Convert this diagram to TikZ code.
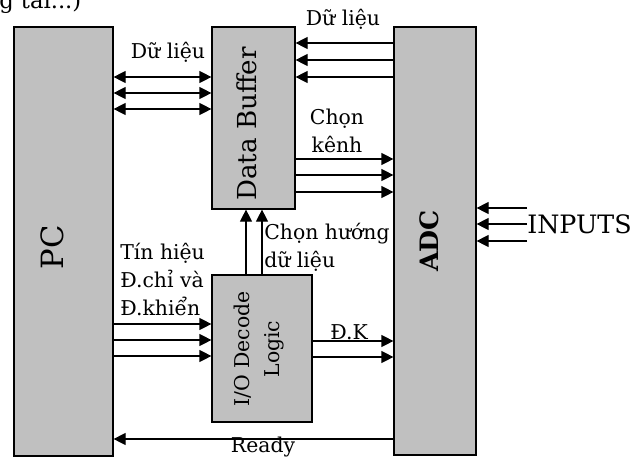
\documentclass[tikz,border=0pt]{standalone}
\usepackage{fontspec}
\setmainfont{DejaVu Serif}
\usetikzlibrary{arrows.meta,fit}
\definecolor{BlockFill}{HTML}{C0C0C0}
\tikzset{
  block/.style={draw=black, line width=0.9pt, fill=BlockFill, inner sep=0pt},
  bus/.style={line width=0.9pt, -{Triangle[length=9pt,width=9pt]}},
  bibus/.style={line width=0.9pt, {Triangle[length=9pt,width=9pt]}-{Triangle[length=9pt,width=9pt]}},
  tag/.style={inner sep=0pt, align=left, font=\fontsize{15.3}{21}\selectfont},
}

\begin{document}
\begin{tikzpicture}[x=0.75pt, y=-0.75pt]
  \useasboundingbox (0,0) rectangle (636,457);
  \node[block, fit={(14,27) (113,456)}] (pc) {};
  \node[block, fit={(212,27) (295,209)}] (buf) {};
  \node[block, fit={(212,275) (312,422)}] (io) {};
  \node[block, fit={(394,27) (476,455)}] (adc) {};

  \node[rotate=90, inner sep=0pt, font=\fontsize{23}{27}\selectfont] (pcname) at (52,247) {PC};
  \node[rotate=90, inner sep=0pt, font=\fontsize{19.6}{23}\selectfont] (bufname) at (247,124) {Data Buffer};
  \node[rotate=90, inner sep=0pt, align=center, font=\fontsize{15.3}{22}\selectfont] (ioname) at (259,349) {I/O Decode\\Logic};
  \node[rotate=90, inner sep=0pt, font=\bfseries\fontsize{19}{23}\selectfont] (adcname) at (429,241) {ADC};
  \node[anchor=west, inner sep=0pt, font=\fontsize{19}{23}\selectfont] (inputs) at (527,224) {INPUTS};

  \foreach \y in {77,93,109} \draw[bibus] (pc.east |- 0,\y) -- (buf.west |- 0,\y);
  \foreach \y in {43,60,77} \draw[bus] (adc.west |- 0,\y) -- (buf.east |- 0,\y);
  \foreach \y in {159,175,192} \draw[bus] (buf.east |- 0,\y) -- (adc.west |- 0,\y);
  \foreach \y in {324,340,356} \draw[bus] (pc.east |- 0,\y) -- (io.west |- 0,\y);
  \foreach \y in {341,357} \draw[bus] (io.east |- 0,\y) -- (adc.west |- 0,\y);
  \foreach \x in {246,262} \draw[bus] (io.north -| \x,0) -- (buf.south -| \x,0);
  \foreach \y in {208,224,241} \draw[bus] (inputs.west |- 0,\y) -- (adc.east |- 0,\y);
  \draw[bus] (adc.west |- 0,439) -- (pc.east |- 0,439);

  \node[tag, anchor=base] (bufdata) at (168,58) {Dữ liệu};
  \node[tag, anchor=base] (adcdata) at (343,25) {Dữ liệu};
  \node[tag, align=center] (channel) at (337,131) {Chọn\\kênh};
  \node[tag, anchor=west] (ctrl) at (120,279) {Tín hiệu\\Đ.chỉ và\\Đ.khiển};
  \node[tag, anchor=west] (dir) at (264,247) {Chọn hướng\\dữ liệu};
  \node[tag, anchor=base] (dk) at (349,339) {Đ.K};
  \node[tag, anchor=base] (ready) at (263,452) {Ready};
  \node[anchor=base west, inner sep=0pt, font=\fontsize{17}{20}\selectfont] (caption) at (-1,8) {g tải...)};
\end{tikzpicture}
\end{document}
